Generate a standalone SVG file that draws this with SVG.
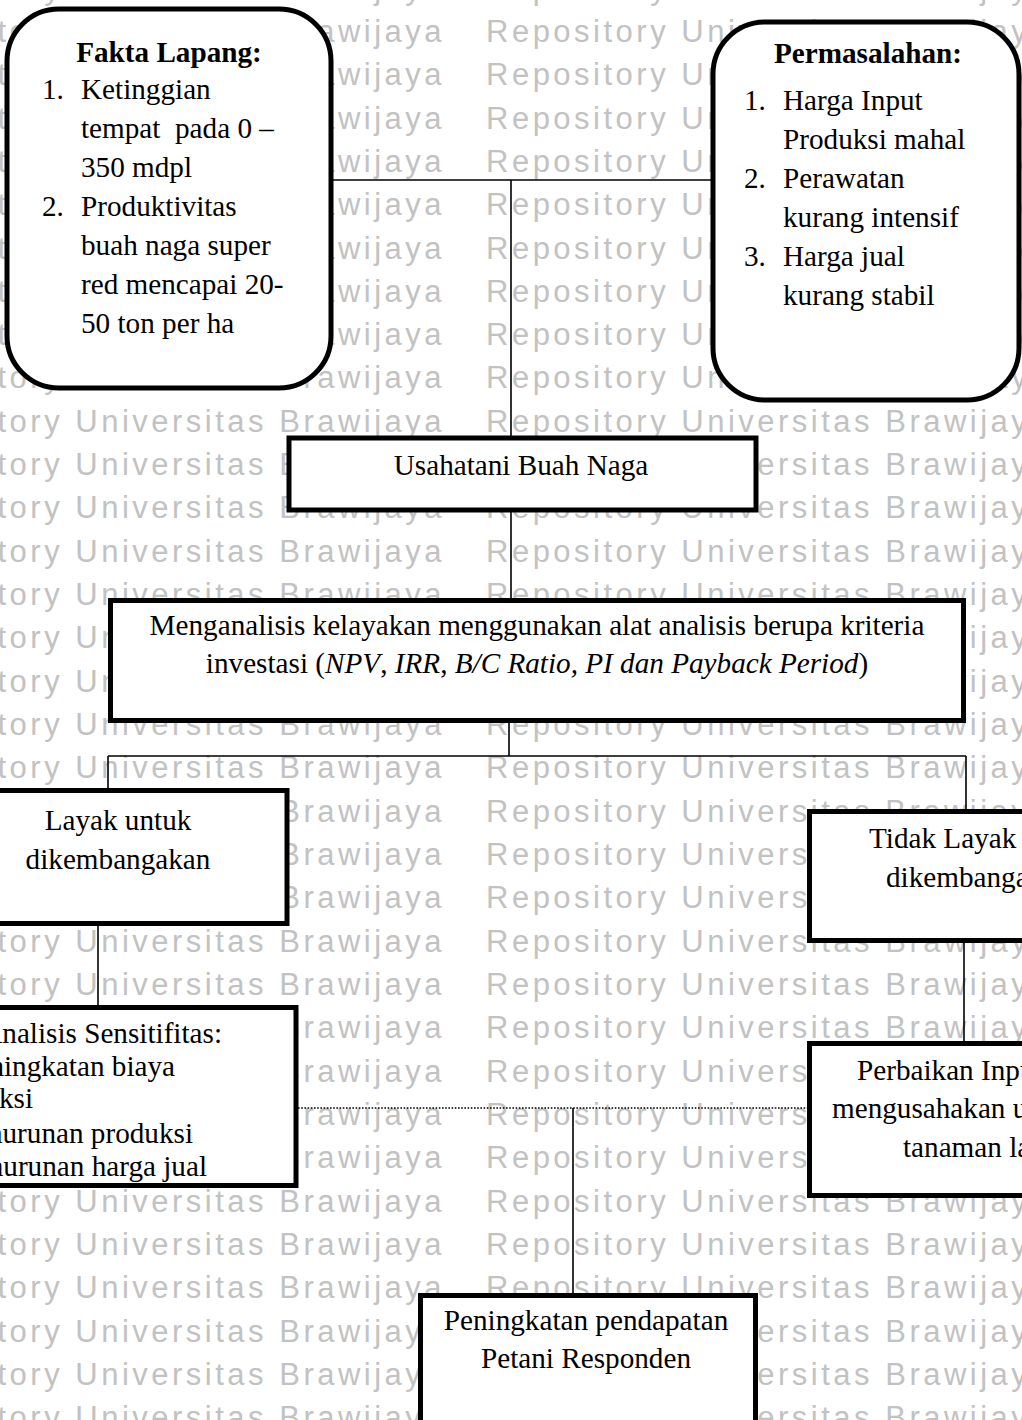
<svg xmlns="http://www.w3.org/2000/svg" width="1022" height="1420" viewBox="0 0 1022 1420">
<style>
.wm{font-family:"Liberation Sans",Arial,sans-serif;font-size:31px;letter-spacing:3.5px;fill:#c2c2c2}
.box{fill:#fff;stroke:#000;stroke-width:5}
.t{font-family:"Liberation Serif","Times New Roman",serif;font-size:29.2px;fill:#000}
.c{text-anchor:middle}
.e{text-anchor:end}
.b{font-weight:bold}
.ln{stroke:#000;stroke-width:1.6;fill:none}
.dot{stroke:#000;stroke-width:1.6;stroke-dasharray:1.6 1.6;fill:none}
</style>
<rect width="1022" height="1420" fill="#fff"/>
<g id="watermark">
<text class="wm" x="-120" y="-1">Repository Universitas Brawijaya</text><text class="wm" x="486" y="-1">Repository Universitas Brawijaya</text>
<text class="wm" x="-120" y="42">Repository Universitas Brawijaya</text><text class="wm" x="486" y="42">Repository Universitas Brawijaya</text>
<text class="wm" x="-120" y="85">Repository Universitas Brawijaya</text><text class="wm" x="486" y="85">Repository Universitas Brawijaya</text>
<text class="wm" x="-120" y="129">Repository Universitas Brawijaya</text><text class="wm" x="486" y="129">Repository Universitas Brawijaya</text>
<text class="wm" x="-120" y="172">Repository Universitas Brawijaya</text><text class="wm" x="486" y="172">Repository Universitas Brawijaya</text>
<text class="wm" x="-120" y="215">Repository Universitas Brawijaya</text><text class="wm" x="486" y="215">Repository Universitas Brawijaya</text>
<text class="wm" x="-120" y="259">Repository Universitas Brawijaya</text><text class="wm" x="486" y="259">Repository Universitas Brawijaya</text>
<text class="wm" x="-120" y="302">Repository Universitas Brawijaya</text><text class="wm" x="486" y="302">Repository Universitas Brawijaya</text>
<text class="wm" x="-120" y="345">Repository Universitas Brawijaya</text><text class="wm" x="486" y="345">Repository Universitas Brawijaya</text>
<text class="wm" x="-120" y="388">Repository Universitas Brawijaya</text><text class="wm" x="486" y="388">Repository Universitas Brawijaya</text>
<text class="wm" x="-120" y="432">Repository Universitas Brawijaya</text><text class="wm" x="486" y="432">Repository Universitas Brawijaya</text>
<text class="wm" x="-120" y="475">Repository Universitas Brawijaya</text><text class="wm" x="486" y="475">Repository Universitas Brawijaya</text>
<text class="wm" x="-120" y="518">Repository Universitas Brawijaya</text><text class="wm" x="486" y="518">Repository Universitas Brawijaya</text>
<text class="wm" x="-120" y="562">Repository Universitas Brawijaya</text><text class="wm" x="486" y="562">Repository Universitas Brawijaya</text>
<text class="wm" x="-120" y="605">Repository Universitas Brawijaya</text><text class="wm" x="486" y="605">Repository Universitas Brawijaya</text>
<text class="wm" x="-120" y="648">Repository Universitas Brawijaya</text><text class="wm" x="486" y="648">Repository Universitas Brawijaya</text>
<text class="wm" x="-120" y="692">Repository Universitas Brawijaya</text><text class="wm" x="486" y="692">Repository Universitas Brawijaya</text>
<text class="wm" x="-120" y="735">Repository Universitas Brawijaya</text><text class="wm" x="486" y="735">Repository Universitas Brawijaya</text>
<text class="wm" x="-120" y="778">Repository Universitas Brawijaya</text><text class="wm" x="486" y="778">Repository Universitas Brawijaya</text>
<text class="wm" x="-120" y="822">Repository Universitas Brawijaya</text><text class="wm" x="486" y="822">Repository Universitas Brawijaya</text>
<text class="wm" x="-120" y="865">Repository Universitas Brawijaya</text><text class="wm" x="486" y="865">Repository Universitas Brawijaya</text>
<text class="wm" x="-120" y="908">Repository Universitas Brawijaya</text><text class="wm" x="486" y="908">Repository Universitas Brawijaya</text>
<text class="wm" x="-120" y="952">Repository Universitas Brawijaya</text><text class="wm" x="486" y="952">Repository Universitas Brawijaya</text>
<text class="wm" x="-120" y="995">Repository Universitas Brawijaya</text><text class="wm" x="486" y="995">Repository Universitas Brawijaya</text>
<text class="wm" x="-120" y="1038">Repository Universitas Brawijaya</text><text class="wm" x="486" y="1038">Repository Universitas Brawijaya</text>
<text class="wm" x="-120" y="1082">Repository Universitas Brawijaya</text><text class="wm" x="486" y="1082">Repository Universitas Brawijaya</text>
<text class="wm" x="-120" y="1125">Repository Universitas Brawijaya</text><text class="wm" x="486" y="1125">Repository Universitas Brawijaya</text>
<text class="wm" x="-120" y="1168">Repository Universitas Brawijaya</text><text class="wm" x="486" y="1168">Repository Universitas Brawijaya</text>
<text class="wm" x="-120" y="1212">Repository Universitas Brawijaya</text><text class="wm" x="486" y="1212">Repository Universitas Brawijaya</text>
<text class="wm" x="-120" y="1255">Repository Universitas Brawijaya</text><text class="wm" x="486" y="1255">Repository Universitas Brawijaya</text>
<text class="wm" x="-120" y="1298">Repository Universitas Brawijaya</text><text class="wm" x="486" y="1298">Repository Universitas Brawijaya</text>
<text class="wm" x="-120" y="1342">Repository Universitas Brawijaya</text><text class="wm" x="486" y="1342">Repository Universitas Brawijaya</text>
<text class="wm" x="-120" y="1385">Repository Universitas Brawijaya</text><text class="wm" x="486" y="1385">Repository Universitas Brawijaya</text>
<text class="wm" x="-120" y="1428">Repository Universitas Brawijaya</text><text class="wm" x="486" y="1428">Repository Universitas Brawijaya</text>
</g>
<g id="connectors">
<path class="ln" d="M333 180 H711 M511 180 V438"/>
<path class="ln" d="M511 510 V600"/>
<path class="ln" d="M509 721 V756 M108 756 H966 M108 756 V790 M966 756 V811"/>
<path class="ln" d="M98 924 V1005"/>
<path class="ln" d="M964 941 V1043"/>
<path class="dot" d="M298 1108 H809"/>
<path class="ln" d="M573 1108 V1295"/>
</g>
<g id="fakta">
<rect class="box" x="7" y="9" width="324" height="379" rx="52" stroke-width="4.5"/>
<text class="t b c" x="169" y="62">Fakta Lapang:</text>
<text class="t" x="42" y="99">1.</text>
<text class="t" x="81" y="99">Ketinggian</text>
<text class="t" x="81" y="138" xml:space="preserve">tempat  pada 0 –</text>
<text class="t" x="81" y="177">350 mdpl</text>
<text class="t" x="42" y="216">2.</text>
<text class="t" x="81" y="216">Produktivitas</text>
<text class="t" x="81" y="255">buah naga super</text>
<text class="t" x="81" y="294">red mencapai 20-</text>
<text class="t" x="81" y="333">50 ton per ha</text>
</g>
<g id="permasalahan">
<rect class="box" x="713" y="22" width="306" height="378" rx="52"/>
<text class="t b c" x="868" y="63">Permasalahan:</text>
<text class="t" x="744" y="110">1.</text>
<text class="t" x="783" y="110">Harga Input</text>
<text class="t" x="783" y="149">Produksi mahal</text>
<text class="t" x="744" y="188">2.</text>
<text class="t" x="783" y="188">Perawatan</text>
<text class="t" x="783" y="227">kurang intensif</text>
<text class="t" x="744" y="266">3.</text>
<text class="t" x="783" y="266">Harga jual</text>
<text class="t" x="783" y="305">kurang stabil</text>
</g>
<g id="usahatani">
<rect class="box" x="289" y="438" width="467" height="72" stroke-width="4"/>
<text class="t c" x="521" y="475">Usahatani Buah Naga</text>
</g>
<g id="menganalisis">
<rect class="box" x="110.5" y="600.5" width="853" height="120"/>
<text class="t c" x="537" y="635">Menganalisis kelayakan menggunakan alat analisis berupa kriteria</text>
<text class="t c" x="537" y="673">investasi (<tspan font-style="italic">NPV</tspan>, <tspan font-style="italic">IRR</tspan>, <tspan font-style="italic">B/C Ratio, PI dan Payback Period</tspan>)</text>
</g>
<g id="layak">
<rect class="box" x="-20" y="790.5" width="307" height="133"/>
<text class="t c" x="118" y="830">Layak untuk</text>
<text class="t c" x="118" y="869">dikembangakan</text>
</g>
<g id="sensitifitas">
<rect class="box" x="-20" y="1007.5" width="316" height="178"/>
<text class="t e" x="222" y="1043">Analisis Sensitifitas:</text>
<text class="t e" x="175" y="1076">ningkatan biaya</text>
<text class="t e" x="33" y="1108">ksi</text>
<text class="t e" x="193" y="1143">nurunan produksi</text>
<text class="t e" x="207" y="1176">nurunan harga jual</text>
</g>
<g id="tidak-layak">
<rect class="box" x="809.5" y="811.5" width="240" height="129"/>
<text class="t" x="869" y="848">Tidak Layak</text>
<text class="t" x="886" y="887">dikembanga</text>
</g>
<g id="perbaikan">
<rect class="box" x="809.5" y="1043.5" width="240" height="152"/>
<text class="t" x="857" y="1080">Perbaikan Inpu</text>
<text class="t" x="832" y="1118">mengusahakan u</text>
<text class="t" x="903" y="1157">tanaman la</text>
</g>
<g id="pendapatan">
<rect class="box" x="420.5" y="1295.5" width="335" height="140"/>
<text class="t c" x="586" y="1330">Peningkatan pendapatan</text>
<text class="t c" x="586" y="1368">Petani Responden</text>
</g>
</svg>
